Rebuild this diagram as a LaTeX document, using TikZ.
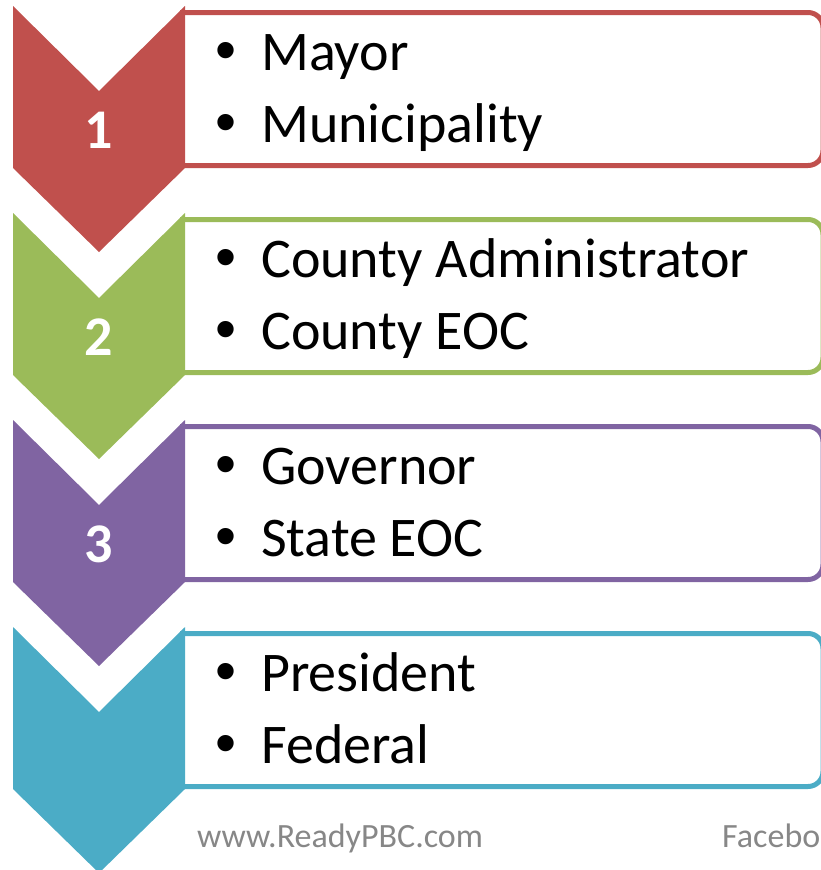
\documentclass[tikz,border=0pt]{standalone}
\usepackage{fontspec}
\setmainfont{Carlito}
\newfontfamily\bulletfont{Liberation Sans}
\usepackage{tikz}
\usetikzlibrary{positioning}

\definecolor{stepred}{HTML}{C0504D}
\definecolor{stepgreen}{HTML}{9BBB59}
\definecolor{steppurple}{HTML}{8064A2}
\definecolor{stepblue}{HTML}{4BACC6}
\definecolor{footgray}{HTML}{878787}

\tikzset{
  listbox/.style={line width=5pt, rounded corners=15pt},
  itemtext/.style={anchor=base west, inner sep=0pt, font=\fontsize{56}{60}\selectfont},
  markdot/.style={anchor=base west, inner sep=0pt, font=\bulletfont\fontsize{60}{60}\selectfont},
  stepnum/.style={anchor=base, inner sep=0pt, text=white, font=\bfseries\fontsize{56}{60}\selectfont},
  footer/.style={anchor=base west, inner sep=0pt, text=footgray, font=\fontsize{34}{40}\selectfont}
}

\begin{document}
\begin{tikzpicture}[x=1pt,y=-1pt]
     \useasboundingbox (0,0) rectangle (821,870);
     \clip (0,0) rectangle (821,870);

     % Stufen
     \foreach \i/\col/\itemA/\itemB in {0/stepred/Mayor/Municipality,1/stepgreen/County Administrator/County EOC,2/steppurple/Governor/State EOC,3/stepblue/President/Federal}
     {
       \pgfmathsetmacro\o{207*\i}
       \draw[listbox, draw=\col] (180,12.5+\o) -- (823,12.5+\o) -- (823,165.5+\o) -- (180,165.5+\o);
       \fill[\col] (13,6+\o) -- (99,91+\o) -- (185,6+\o) -- (185,168+\o) -- (99,252+\o) -- (13,168+\o) -- cycle;
       \ifnum\i<3
         \pgfmathtruncatemacro\num{\i+1}
         \node[stepnum] (num\i) at (99,148+\o) {\num};
       \fi
       \node[markdot] (dotA\i) at (215,70+\o) {•};
       \node[itemtext] (itemA\i) at (261,70+\o) {\itemA};
       \node[markdot] (dotB\i) at (215,142+\o) {•};
       \node[itemtext] (itemB\i) at (261,142+\o) {\itemB};
     }

     % Fusszeile
     \node[footer] (site) at (197,847) {www.ReadyPBC.com};
     \node[footer] (fbook) at (722,847) {Facebo};
\end{tikzpicture}
\end{document}
